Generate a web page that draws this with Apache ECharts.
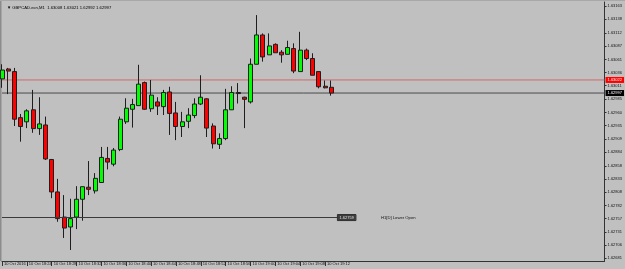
<!DOCTYPE html>
<html><head><meta charset="utf-8">
<script src="https://cdn.jsdelivr.net/npm/echarts@6/dist/echarts.min.js"></script>
<style>html,body{margin:0;padding:0;background:#c0c0c0;}#c{width:625px;height:269px;}</style>
</head><body><div id="c"></div>
<script>
const titleText = '\u25BC GBPCAD.ecn,M1  1.63008 1.63021 1.62992 1.62997';
const times = ['18:20','18:21','18:22','18:23','18:24','18:25','18:26','18:27','18:28','18:29',
'18:30','18:31','18:32','18:33','18:34','18:35','18:36','18:37','18:38','18:39',
'18:40','18:41','18:42','18:43','18:44','18:45','18:46','18:47','18:48','18:49',
'18:50','18:51','18:52','18:53','18:54','18:55','18:56','18:57','18:58','18:59',
'19:00','19:01','19:02','19:03','19:04','19:05','19:06','19:07','19:08','19:09',
'19:10','19:11','19:12','19:13'];
const opens  = [1.63024,1.63043,1.63038,1.62950,1.62942,1.62965,1.62929,1.62936,1.62870,1.62808,
1.62760,1.62741,1.62760,1.62794,1.62817,1.62810,1.62826,1.62872,1.62861,1.62889,
1.62942,1.62966,1.62973,1.63017,1.62967,1.62980,1.62971,1.62999,1.62959,1.62933,
1.62943,1.62954,1.62976,1.62986,1.62934,1.62899,1.62910,1.62965,1.62998,1.62989,
1.62980,1.63052,1.63108,1.63070,1.63090,1.63075,1.63071,1.63082,1.63038,1.63079,
1.63063,1.63038,1.63010,1.63008];
const highs  = [1.63052,1.63045,1.63045,1.62957,1.62966,1.63003,1.62989,1.62952,1.62871,1.62833,
1.62802,1.62795,1.62819,1.62818,1.62867,1.62844,1.62894,1.62894,1.62892,1.62952,
1.62987,1.62986,1.63051,1.63019,1.63022,1.62989,1.63003,1.63009,1.62980,1.62961,
1.62968,1.62987,1.63031,1.62987,1.62939,1.62920,1.63005,1.63010,1.63016,1.62990,
1.63063,1.63146,1.63111,1.63111,1.63092,1.63079,1.63097,1.63092,1.63114,1.63082,
1.63073,1.63038,1.63021,1.63021];
const lows   = [1.63007,1.62995,1.62934,1.62904,1.62930,1.62921,1.62917,1.62869,1.62796,1.62751,
1.62720,1.62697,1.62737,1.62753,1.62802,1.62805,1.62826,1.62851,1.62857,1.62886,
1.62938,1.62931,1.62973,1.62965,1.62961,1.62955,1.62955,1.62917,1.62907,1.62913,
1.62930,1.62949,1.62974,1.62913,1.62891,1.62890,1.62907,1.62965,1.62977,1.62930,
1.62977,1.63052,1.63057,1.63070,1.63074,1.63055,1.63071,1.63035,1.63038,1.63060,
1.63031,1.63006,1.63006,1.62992];
const closes = [1.63041,1.63039,1.62947,1.62933,1.62963,1.62929,1.62938,1.62871,1.62808,1.62757,
1.62739,1.62757,1.62794,1.62818,1.62813,1.62834,1.62874,1.62865,1.62888,1.62947,
1.62968,1.62975,1.63014,1.62966,1.62993,1.62972,1.62998,1.62958,1.62933,1.62942,
1.62955,1.62976,1.62989,1.62930,1.62900,1.62910,1.62965,1.62998,1.62996,1.62985,
1.63052,1.63108,1.63066,1.63087,1.63074,1.63070,1.63084,1.63039,1.63079,1.63063,
1.63031,1.63009,1.63007,1.62997];
const yTicks = [1.63163,1.63138,1.63112,1.63087,1.63061,1.63036,1.63011,1.62985,1.62960,1.62935,
1.62909,1.62884,1.62858,1.62833,1.62808,1.62782,1.62757,1.62731,1.62706,1.62681];
const yMin = 1.62676, yMax = 1.63171;
const bidPrice = 1.62997;
const askPrice = 1.63022;
const levelPrice = 1.62759;
const levelText = 'H1[D] Lower Open';
const emptySlots = 44;

const cats = times.concat(new Array(emptySlots).fill(''));
const candles = times.map((t, i) => [opens[i], closes[i], lows[i], highs[i]]);
const lastIdx = times.length - 1;
const lastCat = cats.length - 1;
const font = 'Liberation Sans';

function priceLine(name, price, lineColor, boxColor, textColor, z) {
  return {
    type: 'line', name: name, silent: true, z: z, clip: false,
    data: [[0, price], [lastCat, price]],
    symbol: 'none', showSymbol: false,
    lineStyle: {color: lineColor, width: 1, type: 'solid'},
    endLabel: {show: true, distance: 1, formatter: price.toFixed(5), fontSize: 4,
      color: textColor, backgroundColor: boxColor, padding: [1, 2, 1, 2], fontFamily: font}
  };
}

const chart = echarts.init(document.getElementById('c'), null, {renderer: 'canvas'});
chart.setOption({
  backgroundColor: '#c0c0c0',
  animation: false,
  title: {text: titleText, left: 2, top: 1,
    textStyle: {fontSize: 4.2, fontWeight: 'normal', color: '#000', fontFamily: font}},
  grid: {left: 2, right: 17.5, top: 2, bottom: 8},
  xAxis: {
    type: 'category', data: cats, boundaryGap: false,
    axisLine: {lineStyle: {color: '#333', width: 1}},
    axisTick: {show: true, length: 5, lineStyle: {color: '#333'},
      interval: (idx) => idx % 4 === 0 && idx <= 52},
    axisLabel: {show: true, fontSize: 4, color: '#111', fontFamily: font, margin: 1, align: 'left',
      padding: [0, 0, 0, 2],
      interval: (idx) => idx % 4 === 0 && idx <= 52,
      formatter: (v, idx) => idx === 0 ? '10 Oct 2016' : '10 Oct ' + v},
    splitLine: {show: false}
  },
  yAxis: {
    type: 'value', position: 'right', min: yMin, max: yMax, scale: true,
    axisLine: {show: true, lineStyle: {color: '#333', width: 1}},
    axisTick: {show: true, length: 2, customValues: yTicks, lineStyle: {color: '#333'}},
    axisLabel: {show: true, customValues: yTicks, fontSize: 4, color: '#111', fontFamily: font, margin: 3,
      formatter: (v) => v.toFixed(5)},
    splitLine: {show: false}
  },
  graphic: [
    {type: 'rect', shape: {x: 0, y: 0, width: 1.5, height: 261}, style: {fill: '#8c8c8c'}, silent: true},
    {type: 'rect', shape: {x: 0, y: 0, width: 625, height: 1}, style: {fill: '#a8a8a8'}, silent: true}
  ],
  series: [
    priceLine('ask', askPrice, '#d06a6a', '#ff0000', '#fff', 1),
    priceLine('bid', bidPrice, '#4a4a4a', '#000', '#fff', 2),
    {
    type: 'candlestick',
    data: candles,
    barWidth: 4.5,
    clip: true,
    z: 3,
    itemStyle: {color: '#00ff00', color0: '#ff0000', borderColor: '#1e1e1e', borderColor0: '#1e1e1e', borderWidth: 1},
    markLine: {
      silent: true, symbol: ['none', 'none'], animation: false,
      data: [
        [{coord: [0, levelPrice], lineStyle: {color: '#3a3a3a', width: 1, type: 'solid'},
          label: {show: true, position: 'end', distance: 0, formatter: levelPrice.toFixed(5), fontSize: 4,
            color: '#e0e0e0', backgroundColor: '#3c3c3c', borderColor: '#222', borderWidth: 0.5,
            padding: [1, 2, 1, 2], fontFamily: font}},
         {coord: [lastIdx + 1, levelPrice]}]
      ]
    },
    markPoint: {
      silent: true, animation: false,
      data: [{coord: [61, levelPrice], symbol: 'circle', symbolSize: 0.01,
        label: {show: true, position: 'right', distance: 0, formatter: levelText, fontSize: 4.2,
          color: '#111', fontFamily: font}}]
    }
  }]
});
</script></body></html>
